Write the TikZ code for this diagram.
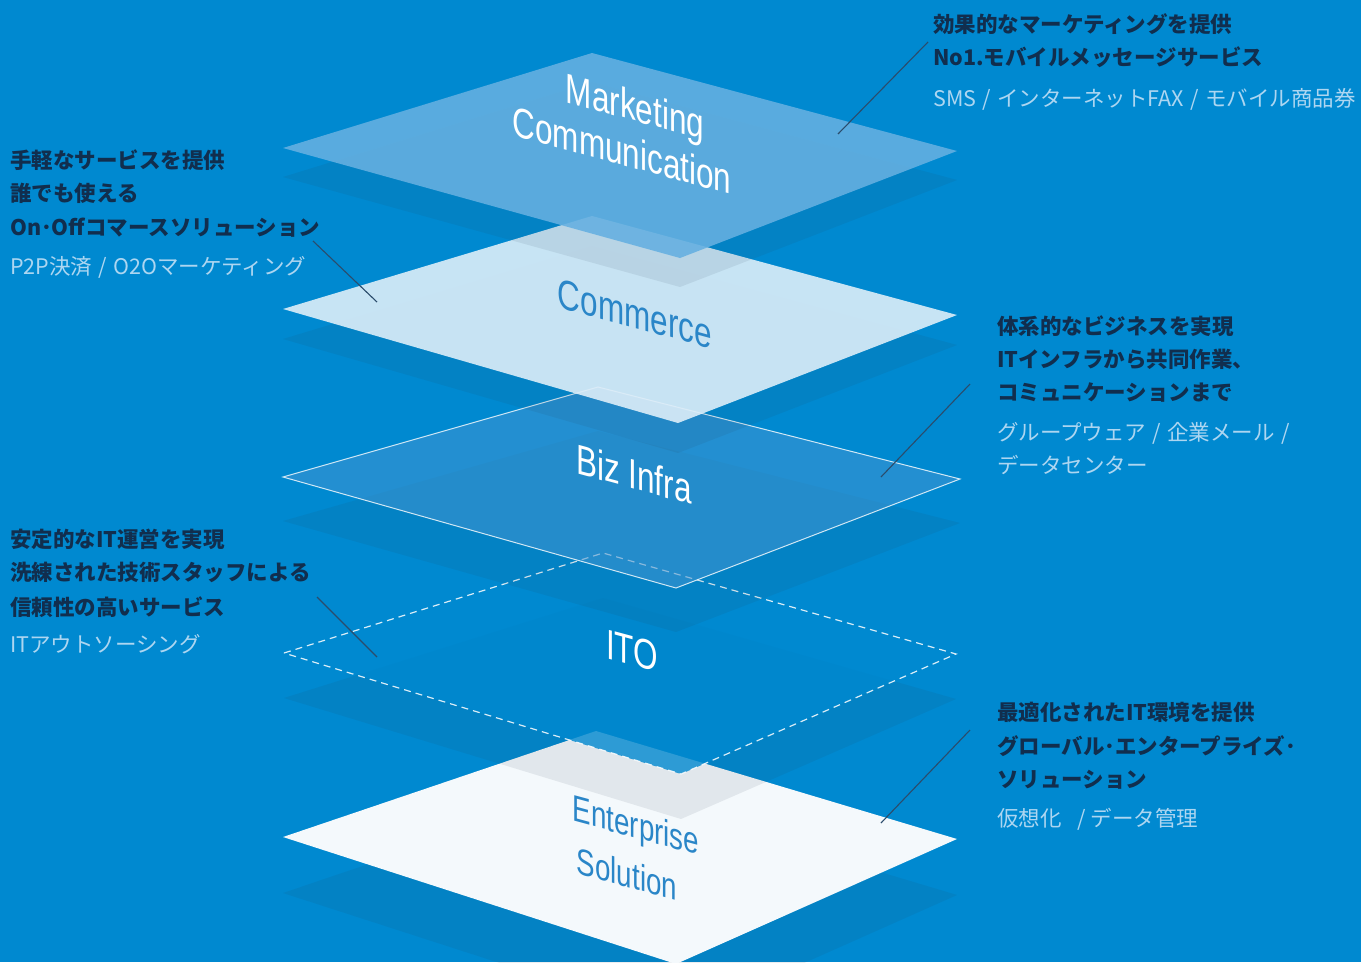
\documentclass[tikz,border=0pt]{standalone}
\usepackage{fontspec}
\newfontfamily\jpfont{Noto Sans CJK JP}
\newfontfamily\lblfont{Liberation Sans}
\definecolor{bg}{HTML}{0089D0}
\definecolor{mkt}{RGB}{101,176,225}
\definecolor{com}{HTML}{DDEEF9}
\definecolor{biz}{RGB}{70,150,210}
\definecolor{ent}{HTML}{F4F9FC}
\definecolor{shd}{RGB}{40,60,80}
\definecolor{navy}{HTML}{112E4E}
\definecolor{pale}{HTML}{ADD6F1}
\definecolor{lead}{HTML}{2B4C6C}
\definecolor{lblblue}{HTML}{2A86C8}
\newcommand\shadowdiamond[2]{\fill[shadowfill] ([yshift=-#2pt]#1L) -- ([yshift=-#2pt]#1T) -- ([yshift=-#2pt]#1R) -- ([yshift=-#2pt]#1B) -- cycle;}
\newcommand\jpslash{\hspace{1.5pt}/\hspace{1.5pt}}
\begin{document}
\begin{tikzpicture}[x=1pt,y=1pt,
  shadowfill/.style={fill=shd, fill opacity=0.09},
  jpmain/.style={font=\jpfont\bfseries\fontsize{21.5}{21.5}\selectfont, text=navy, inner sep=0pt, anchor=base west},
  jpsub/.style={font=\jpfont\fontsize{21.5}{21.5}\selectfont, text=pale, inner sep=0pt, anchor=base west},
  leader/.style={draw=lead, line width=1.1pt},
  lbl/.style={font=\lblfont\fontsize{42}{42}\selectfont, inner sep=0pt, anchor=base, cm={0.75,-0.2025,0,1,(0,0)}},
  lblsmall/.style={font=\lblfont\fontsize{37}{37}\selectfont, inner sep=0pt, anchor=base, cm={0.75,-0.2025,0,1,(0,0)}}
]
\useasboundingbox (0,-962) rectangle (1361,0);
\clip (0,-962) rectangle (1361,0);
\fill[bg] (0,-962) rectangle (1361,0);

% plane corners
\coordinate (mL) at (283,-148); \coordinate (mT) at (592,-53);  \coordinate (mR) at (957,-151); \coordinate (mB) at (680,-258);
\coordinate (cL) at (283,-309); \coordinate (cT) at (592,-216); \coordinate (cR) at (957,-315); \coordinate (cB) at (678,-423);
\coordinate (bL) at (283,-477); \coordinate (bT) at (598,-387); \coordinate (bR) at (960,-479); \coordinate (bB) at (676,-588);
\coordinate (iL) at (284,-653); \coordinate (iT) at (603,-553); \coordinate (iR) at (956,-654); \coordinate (iB) at (681,-774);
\coordinate (eL) at (283,-837); \coordinate (eT) at (596,-731); \coordinate (eR) at (957,-839); \coordinate (eB) at (676,-964);

% Enterprise
\shadowdiamond{e}{56}
\fill[ent] (eL) -- (eT) -- (eR) -- (eB) -- cycle;
% ITO
\shadowdiamond{i}{45}
\fill[bg, fill opacity=0.8] (iL) -- (iT) -- (iR) -- (iB) -- cycle;
\draw[white, draw opacity=0.85, line width=1.2pt, dash pattern=on 7pt off 5pt] (iL) -- (iT) -- (iR) -- (iB) -- cycle;
% Biz Infra
\shadowdiamond{b}{44}
\fill[biz, fill opacity=0.5] (bL) -- (bT) -- (bR) -- (bB) -- cycle;
\draw[white, draw opacity=0.8, line width=1pt] (bL) -- (bT) -- (bR) -- (bB) -- cycle;
% Commerce
\shadowdiamond{c}{30}
\fill[com, fill opacity=0.9] (cL) -- (cT) -- (cR) -- (cB) -- cycle;
% Marketing
\shadowdiamond{m}{29}
\fill[mkt, fill opacity=0.89] (mL) -- (mT) -- (mR) -- (mB) -- cycle;

% plane labels
\begin{scope}[shift={(635,-121)}]\node[lbl, text=white] (lmk) at (0,0) {Marketing};\end{scope}
\begin{scope}[shift={(622,-165)}]\node[lbl, text=white] (lcm) at (0,0) {Communication};\end{scope}
\begin{scope}[shift={(635,-328)}]\node[lbl, text=lblblue] (lco) at (0,0) {Commerce};\end{scope}
\begin{scope}[shift={(634,-489)}]\node[lbl, text=white] (lbi) at (0,0) {Biz Infra};\end{scope}
\begin{scope}[shift={(632,-665)}]\node[lbl, text=white] (lit) at (0,0) {ITO};\end{scope}
\begin{scope}[shift={(636,-838)}]\node[lblsmall, text=lblblue] (len) at (0,0) {Enterprise};\end{scope}
\begin{scope}[shift={(627,-887)}]\node[lblsmall, text=lblblue] (lso) at (0,0) {Solution};\end{scope}

% text block 1 (top right)
\node[jpmain] (t1a) at (933,-32) {効果的なマーケティングを提供};
\node[jpmain] (t1b) at (933,-65) {No1.モバイルメッセージサービス};
\node[jpsub]  (t1c) at (933,-106) {SMS \jpslash{} インターネットFAX \jpslash{} モバイル商品券};
% text block 2 (left)
\node[jpmain] (t2a) at (10,-168) {手軽なサービスを提供};
\node[jpmain] (t2b) at (10,-201) {誰でも使える};
\node[jpmain] (t2c) at (10,-235) {On･Offコマースソリューション};
\node[jpsub]  (t2d) at (10,-274) {P2P決済 \jpslash{} O2Oマーケティング};
% text block 3 (right)
\node[jpmain] (t3a) at (997,-334) {体系的なビジネスを実現};
\node[jpmain] (t3b) at (997,-367) {ITインフラから共同作業、};
\node[jpmain] (t3c) at (997,-400) {コミュニケーションまで};
\node[jpsub]  (t3d) at (997,-440) {グループウェア \jpslash{} 企業メール \jpslash};
\node[jpsub]  (t3e) at (997,-473) {データセンター};
% text block 4 (left)
\node[jpmain] (t4a) at (10,-547) {安定的なIT運営を実現};
\node[jpmain] (t4b) at (10,-580) {洗練された技術スタッフによる};
\node[jpmain] (t4c) at (10,-615) {信頼性の高いサービス};
\node[jpsub]  (t4d) at (10,-652) {ITアウトソーシング};
% text block 5 (right)
\node[jpmain] (t5a) at (997,-720) {最適化されたIT環境を提供};
\node[jpmain] (t5b) at (997,-754) {グローバル･エンタープライズ･};
\node[jpmain] (t5c) at (997,-787) {ソリューション};
\node[jpsub]  (t5d) at (997,-826) {仮想化\hspace{16pt}/ データ管理};

% leader lines
\coordinate (l1a) at (838,-134); \coordinate (l1b) at (928,-42);
\coordinate (l2a) at (377,-302); \coordinate (l2b) at (313,-241);
\coordinate (l3a) at (881,-477); \coordinate (l3b) at (970,-384);
\coordinate (l4a) at (377,-657); \coordinate (l4b) at (317,-597);
\coordinate (l5a) at (881,-823); \coordinate (l5b) at (970,-730);
\draw[leader] (l1a) -- (l1b);
\draw[leader] (l2a) -- (l2b);
\draw[leader] (l3a) -- (l3b);
\draw[leader] (l4a) -- (l4b);
\draw[leader] (l5a) -- (l5b);
\end{tikzpicture}
\end{document}
